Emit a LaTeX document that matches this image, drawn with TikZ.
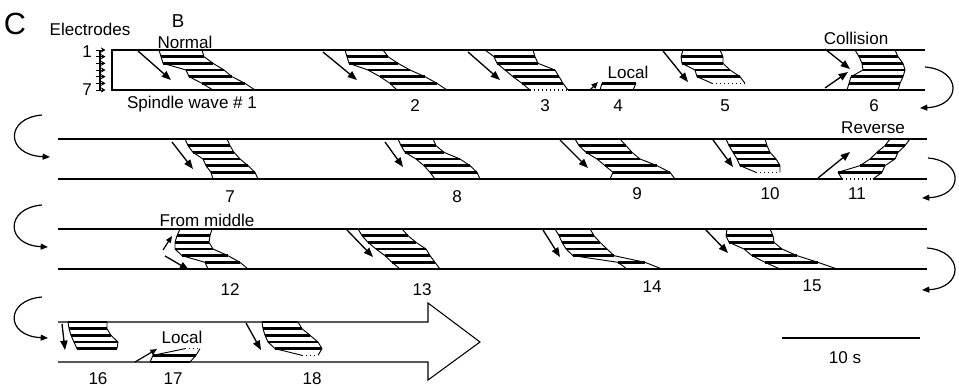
\documentclass[tikz,border=0pt]{standalone}
\usepackage{fontspec}
\setmainfont{Liberation Sans}
\usetikzlibrary{arrows.meta}

\tikzset{
  bandline/.style={line width=0.8pt},
  wavebar/.style={line width=2.1pt},
  wavedots/.style={line width=1pt, dotted},
  knockout/.style={white, line width=2.2pt},
  waveside/.style={line width=0.7pt},
  wavearrow/.style={line width=1pt, -{Triangle[length=7pt,width=5.4pt]}},
  smallarrow/.style={line width=0.9pt, -{Triangle[length=5pt,width=4.2pt]}},
  turnarrow/.style={line width=0.9pt, -{Triangle[length=5.5pt,width=4.5pt]}},
  lbl/.style={font=\fontsize{12.8}{14}\selectfont, inner sep=0pt},
}
\newcommand{\levgap}{6.667}
% #1 band top, #2 first level, #3 dotted level, #4 xl/xr per level
\newcommand{\spwave}[4]{%
  \foreach \xl/\xr [count=\lev from #2, remember=\xl as \pl (initially 0),
                    remember=\xr as \pr (initially 0)] in {#4} {
    \pgfmathsetmacro\yk{#1+\lev*\levgap}
    \pgfmathsetmacro\yp{#1+(\lev-1)*\levgap}
    \ifnum\lev=#3
      \draw[knockout] (\xl,\yk) -- (\xr,\yk);
      \draw[wavedots] (\xl,\yk) -- (\xr,\yk);
    \else
      \draw[wavebar] (\xl,\yk) -- (\xr,\yk);
    \fi
    \ifnum\lev>#2
      \draw[waveside] (\pl,\yp) -- (\xl,\yk) (\pr,\yp) -- (\xr,\yk);
    \fi
  }%
}

\begin{document}
\begin{tikzpicture}[x=0.75pt, y=-0.75pt]
  \useasboundingbox (0,0) rectangle (959,388);
  % bands
  \draw[bandline] (925,50) -- (112,50) -- (112,90) -- (925,90);
  \foreach \yt in {139,229}
    \draw[bandline] (58,\yt) -- (927,\yt) (58,{\yt+40}) -- (927,{\yt+40});
  \draw[bandline] (58,322) -- (428,322) -- (428,303) -- (480,342)
    -- (428,380) -- (428,362) -- (58,362);

  % electrodes
  \draw[bandline] (100,50) -- (100,90);
  \foreach \lev in {0,...,6}
    \draw[line width=0.7pt, -{Stealth[length=3.5pt,width=4pt]}]
      (95.5,{50+\lev*\levgap}) -- (105.5,{50+\lev*\levgap});
  \node[lbl] (e1) at (87,52) {1};
  \node[lbl] (e7) at (87,90) {7};
  \node[lbl, font=\fontsize{23}{25}\selectfont] (lC) at (15,24) {C};
  \node[lbl] (lElec) at (90,29) {Electrodes};
  \node[lbl, font=\fontsize{14}{16}\selectfont] (lB) at (178,21) {B};

  % row 1
  \spwave{50}{0}{99}{159/202,161/204,163/213,186/224,189/232,202/245,213/255}
  \spwave{50}{0}{99}{345/383,347/388,349/398,368/410,380/425,390/437,397/447}
  \spwave{50}{0}{6}{485/533,494/535,497/538,505/555,513/559,522/563,530/568}
  \spwave{50}{5}{99}{602/636,600/633}
  \spwave{50}{0}{5}{683/720,681/723,682/723,695/730,697/740,712/745}
  \spwave{50}{0}{99}{855/895,859/898,862/903,863/905,851/903,849/900,847/898}
  \draw[wavearrow] (138,51) -- (171,80);
  \draw[wavearrow] (323,52) -- (357,80);
  \draw[wavearrow] (468,52) -- (500,80);
  \draw[smallarrow] (590,90) -- (598,82);
  \draw[wavearrow] (663,51) -- (688,82);
  \draw[wavearrow] (825,49) -- (850,69);
  \draw[wavearrow] (825,88) -- (848,72);
  \node[lbl] (lNormal) at (185,42) {Normal};
  \node[lbl] (lLocalA) at (628,72) {Local};
  \node[lbl] (lCollision) at (856,38) {Collision};
  \node[lbl] (lSpindle) at (192,104) {Spindle wave \# 1};
  \foreach \x/\n in {415/2,545/3,618/4,725/5,874/6}
    \node[lbl] (n\n) at (\x,106) {\n};

  % row 2
  \spwave{139}{0}{99}{185/227,188/230,193/234,203/240,206/248,211/255,213/258}
  \spwave{139}{0}{99}{398/433,401/436,405/444,416/460,424/470,430/477,435/480}
  \spwave{139}{0}{99}{575/620,579/626,586/632,597/640,605/657,613/670,610/675}
  \spwave{139}{0}{5}{726/765,729/767,733/770,737/776,740/780,756/780}
  \spwave{139}{0}{6}{890/910,885/905,877/898,870/895,860/885,838/882,842/873}
  \draw[wavearrow] (172,142) -- (193,169);
  \draw[wavearrow] (385,142) -- (403,167);
  \draw[wavearrow] (560,140) -- (588,168);
  \draw[wavearrow] (713,140) -- (733,167);
  \draw[wavearrow] (818,178) -- (850,152);
  \node[lbl] (lReverse) at (873,128) {Reverse};
  \foreach \x/\n/\y in {230/7/197,457/8/197,637/9/194,770/10/194,857/11/194}
    \node[lbl] (n\n) at (\x,\y) {\n};

  % row 3
  \spwave{229}{0}{99}{180/212,177/210,175/209,175/213,182/228,205/240,208/248}
  \spwave{229}{0}{99}{358/402,362/408,368/416,376/426,385/430,392/435,400/440}
  \spwave{229}{0}{99}{555/590,559/594,562/600,566/607,573/614,618/645,627/662}
  \spwave{229}{0}{99}{727/770,726/773,729/774,744/782,752/797,765/818,780/837}
  \draw[smallarrow] (163,250) -- (172,236);
  \draw[wavearrow] (165,256) -- (189,270);
  \draw[wavearrow] (347,230) -- (373,257);
  \draw[wavearrow] (543,230) -- (560,257);
  \draw[wavearrow] (705,229) -- (728,253);
  \node[lbl] (lMiddle) at (207,220) {From middle};
  \foreach \x/\n/\y in {230/12/290,422/13/290,652/14/287,812/15/286}
    \node[lbl] (n\n) at (\x,\y) {\n};

  % row 4
  \spwave{322}{0}{99}{68/107,69/107,71/111,74/118,77/117}
  \spwave{322}{4}{4}{185/200,153/196,150/190}
  \spwave{322}{0}{5}{262/298,263/302,265/310,268/318,275/322,302/318}
  \draw[wavearrow] (62,324) -- (65,350);
  \draw[smallarrow] (135,362) -- (157,349);
  \draw[wavearrow] (246,323) -- (261,350);
  \node[lbl] (lLocalB) at (182,337) {Local};
  \foreach \x/\n in {98/16,173/17,312/18}
    \node[lbl] (n\n) at (\x,379) {\n};

  % turns between rows
  \draw[turnarrow] (925,67) .. controls (962,70) and (962,106) .. (920,108);
  \draw[turnarrow] (928,158) .. controls (964,161) and (964,196) .. (922,198);
  \draw[turnarrow] (927,248) .. controls (964,251) and (964,288) .. (922,290);
  \draw[turnarrow] (42,115) .. controls (5,118) and (5,155) .. (50,157);
  \draw[turnarrow] (42,205) .. controls (5,208) and (5,245) .. (48,247);
  \draw[turnarrow] (42,297) .. controls (5,300) and (5,336) .. (48,338);

  % scale bar
  \draw[line width=1.3pt] (782,338) -- (920,338);
  \node[lbl] (lScale) at (845,358) {10 s};
\end{tikzpicture}
\end{document}
